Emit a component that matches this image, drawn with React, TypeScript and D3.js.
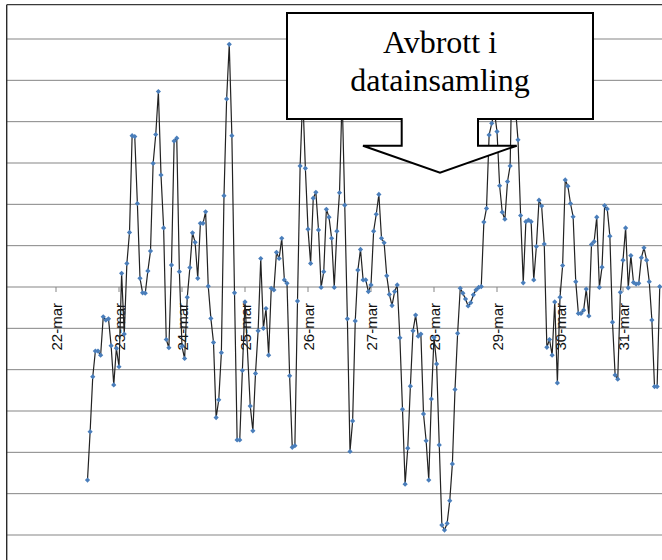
import React from "react";
import * as d3 from "d3";

// Category (day) labels on the time axis
const dayLabels = ["22-mar", "23-mar", "24-mar", "25-mar", "26-mar", "27-mar", "28-mar", "29-mar", "30-mar", "31-mar"];

// Hourly readings, hours counted from 22-mar 00:00
const seriesAStartHour = 12;
const seriesAValues = [
  -4.67, -3.5, -2.17, -1.55, -1.55, -1.65, -0.72, -0.8, -0.77, -1.42, -2.37, -1.48, -1.93, 0.33, -1.14, 0.57,
  1.32, 3.66, 3.64, 2.02, 0.21, -0.14, -0.15, 0.39, 0.87, 2.99, 3.69, 4.73, 2.71, 1.43, -1.27, -1.47,
  0.53, 3.53, 3.6, 0.37, -1.44, -1.73, -0.25, 0.47, 1.31, 1.08, 0.21, 1.54, 1.54, 1.82, 0.02, -0.76,
  -1.34, -3.16, -2.73, -1.59, 2.21, 4.55, 5.87, 3.66, -0.14, -3.7, -3.7, -2.02, -0.36,
];
const seriesBStartHour = 74;
const seriesBValues = [
  -2.88, -3.48, -2.09, -1.06, 0.69, -1.0, -0.52, -1.65, -0.03, -0.07, 0.84, 0.69, 1.18, 0.17, 0.09, -2.15,
  -3.88, -3.84, -0.34, 2.93, 4.65, 2.87, 1.4, 0.57, 2.15, 2.29, 1.38, -0.01, 0.37, 1.88, 1.69, 1.18,
  -0.01, 1.35, 2.28, 4.65, 1.98, -0.77, -3.98, -3.24, -0.82, 0.41, 0.91, 0.17, 0.17, -0.11, 0.05, 1.35,
  1.76, 2.24, 1.18, 1.07, 0.27, -0.18, -0.45, -0.11, 0.05, -1.23, -2.96, -4.77, -3.9, -2.4, -1.06, -0.68,
  -1.19, -1.14, -3.07, -3.72, -4.67, -2.71, -1.22, -1.86, -3.82, -5.76, -5.88, -5.72, -5.17, -4.28, -2.48, -1.12,
  -0.03, -0.15, -0.29, -0.46, -0.38, -0.19, -0.07, -0.01, 0.01, 1.57, 1.9, 3.68, 3.96, 4.26, 3.76, 2.45,
  1.81, 1.64, 2.55, 2.93, 6.22, 4.35, 3.56, 1.73, 0.1, 1.58, 1.62, 1.58, 0.17, 0.98, 2.1, 1.96,
  1.04, -1.46, -1.27, -1.65, -0.36, -2.32, -0.25, 0.52, 2.59, 2.44, 2.02, 1.7, 0.13, -0.64, -0.64, -0.56,
  -0.05, -0.7, 1.03, 1.1, 1.69, -0.01, 0.48, 1.97, 1.89, 1.23, -0.85, -2.13, -2.23, -0.13, 0.65, 1.43,
  -0.02, 0.76, 0.11, 0.07, 0.09, 0.71, 0.95, 0.65, 0.13, -0.8, -2.41, -2.41, 0.01,
];

// Horizontal gridline values
const gridValues = [-6, -5, -4, -3, -2, -1, 0, 1, 2, 3, 4, 5, 6];

// Callout text
const calloutLines = ["Avbrott i", "datainsamling"];

type Pt = { h: number; v: number };

export default function App() {
  const W = 662;
  const H = 560;
  const axisX = 6.7;
  const plotTop = 4.7;

  const x = d3.scaleLinear().domain([0, 24]).range([56, 119]);
  const y = d3.scaleLinear().domain([-6, 6]).range([535, 39]);

  const points: Pt[] = [
    ...seriesAValues.map((v, i) => ({ h: seriesAStartHour + i, v })),
    ...seriesBValues.map((v, i) => ({ h: seriesBStartHour + i, v })),
  ];

  const linePath = d3
    .line<Pt>()
    .x((d) => x(d.h))
    .y((d) => y(d.v))(points) as string;

  const y0 = y(0);
  const dayHours = dayLabels.map((_, i) => i * 24);

  // Callout shape (box with downward pointer)
  const callout = [
    [401.7, 119],
    [287, 119],
    [287, 13],
    [593, 13],
    [593, 119],
    [478, 119],
    [478, 145.7],
    [516.7, 145.7],
    [440, 172.7],
    [363, 145.7],
    [401.7, 145.7],
  ];
  const calloutPath = "M" + callout.map((p) => p.join(",")).join("L") + "Z";

  const diamond = (cx: number, cy: number, r: number) =>
    `M${cx},${cy - r}L${cx + r},${cy}L${cx},${cy + r}L${cx - r},${cy}Z`;

  return (
    <div style={{ position: "absolute", left: 0, top: 0 }}>
      <svg width={W} height={H} viewBox={`0 0 ${W} ${H}`} style={{ display: "block", background: "#fff" }}>
        <defs>
          <clipPath id="clip">
            <rect x={0} y={0} width={W} height={H} />
          </clipPath>
        </defs>
        <rect x={0} y={0} width={W} height={H} fill="#fff" />
        {/* gridlines */}
        {gridValues.map((g) => (
          <line key={g} x1={axisX} x2={W} y1={y(g)} y2={y(g)} stroke="#858585" strokeWidth={1} />
        ))}
        {/* top border */}
        <line x1={axisX} x2={W} y1={plotTop} y2={plotTop} stroke="#3a3a3a" strokeWidth={1.2} />
        {/* left axis */}
        <line x1={axisX} x2={axisX} y1={plotTop} y2={H} stroke="#2a2a2a" strokeWidth={1.4} />
        {/* category ticks */}
        {dayHours.map((h) => (
          <line key={h} x1={x(h)} x2={x(h)} y1={y0} y2={y0 + 5} stroke="#858585" strokeWidth={1} />
        ))}
        {/* category labels */}
        {dayLabels.map((lab, i) => (
          <text
            key={lab}
            transform={`translate(${x(dayHours[i]) + 1},${y0 + 16}) rotate(-90)`}
            textAnchor="end"
            dy="0.35em"
            fontFamily="'Liberation Sans', Arial, sans-serif"
            fontSize={15}
            fill="#111"
          >
            {lab}
          </text>
        ))}
        {/* series */}
        <g clipPath="url(#clip)">
          <path d={linePath} fill="none" stroke="#222" strokeWidth={1.2} strokeLinejoin="round" />
          {points.map((p, i) => (
            <path key={i} d={diamond(x(p.h), y(p.v), 2.6)} fill="#4a7ebb" />
          ))}
        </g>
        {/* callout */}
        <path d={calloutPath} fill="#fff" stroke="#000" strokeWidth={2} strokeLinejoin="miter" />
        {calloutLines.map((t, i) => (
          <text
            key={t}
            x={440}
            y={53.3 + i * 37.4}
            textAnchor="middle"
            fontFamily="'Liberation Serif', 'Times New Roman', serif"
            fontSize={32}
            fill="#000"
          >
            {t}
          </text>
        ))}
      </svg>
    </div>
  );
}
